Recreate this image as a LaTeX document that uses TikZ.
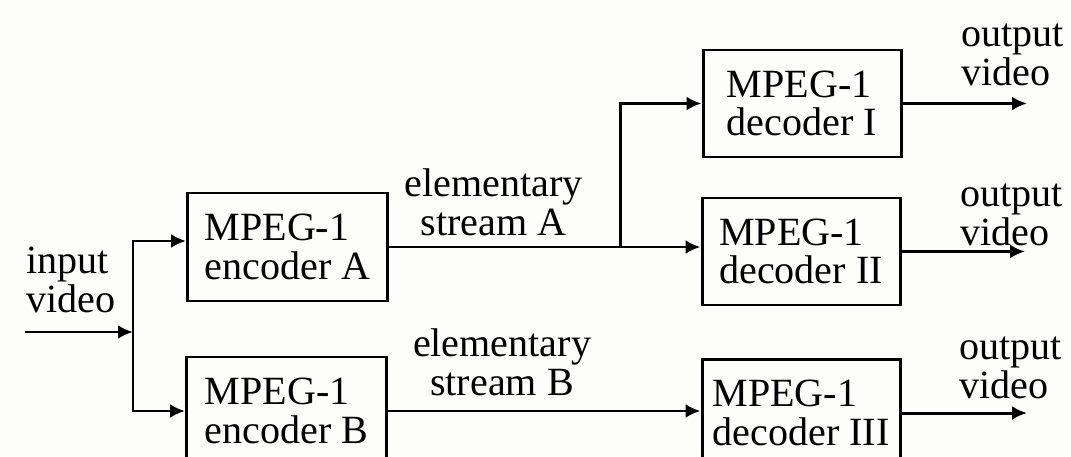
\documentclass[tikz,border=0pt]{standalone}
\usepackage{fontspec}
\setmainfont{Liberation Serif}
\usetikzlibrary{arrows.meta}
\definecolor{paper}{RGB}{253,253,249}

\begin{document}
\begin{tikzpicture}[
  font=\fontsize{11.4pt}{10.9pt}\selectfont,
  line width=0.85pt,
  block/.style={draw, rectangle, align=left, inner sep=0pt},
  encblock/.style={block, minimum width=2cm, minimum height=1.08cm},
  decblock/.style={block, minimum width=1.98cm, minimum height=1.07cm},
  tag/.style={inner sep=0pt},
  flow/.style={-{Latex[length=1.5mm,width=1.4mm]}}
]

%% Page
\path [use as bounding box, fill=paper] ( 0, 0 ) rectangle ( 10.71, -4.56 );

%% Encoders
\node [encblock] (encA) at ( 2.875, -2.47 ) {MPEG-1\\encoder A};
\node [encblock] (encB) at ( 2.865, -4.11 ) {MPEG-1\\encoder B};

%% Decoders
\node [decblock] (decI) at ( 8.02, -1.035 ) {MPEG-1\\decoder I};
\node [decblock] (decII) at ( 8.01, -2.515 ) {MPEG-1\\decoder II};
\node [decblock] (decIII) at ( 8.01, -4.13 ) {MPEG-1\\decoder III};

%% Input side
\coordinate (vin) at ( 0.25, -3.32 );
\coordinate (split) at ( 1.33, -3.32 );
\draw [flow] (vin) -- (split);
\draw [flow] (split) |- ([yshift=0.06cm]encA.west);
\draw [flow] (split) |- (encB.west);
\node [tag, align=left, anchor=west] (invid) at ( 0.25, -2.80 ) {input\\video};

%% Elementary streams
\coordinate (tap) at ( 6.20, -2.47 );
\draw [flow] (encA.east) -- (encA.east -| decII.west);
\draw [flow] (tap) |- (decI.west);
\draw [flow] (encB.east) -- (encB.east -| decIII.west);
\node [tag, align=center, anchor=south] (esA) at ( 4.935, -2.37 ) {elementary\\stream A};
\node [tag, align=center, anchor=south] (esB) at ( 5.02, -3.97 ) {elementary\\stream B};

%% Outputs
\coordinate (outI) at ( 10.27, -1.035 );
\coordinate (outII) at ( 10.25, -2.515 );
\coordinate (outIII) at ( 10.27, -4.13 );
\draw [flow] (decI.east) -- (outI);
\draw [flow] (decII.east) -- (outII);
\draw [flow] (decIII.east) -- (outIII);
\node [tag, align=left, anchor=south west] (outvidI) at ( 9.60, -0.87 ) {output\\video};
\node [tag, align=left, anchor=south west] (outvidII) at ( 9.59, -2.47 ) {output\\video};
\node [tag, align=left, anchor=south west] (outvidIII) at ( 9.58, -4.00 ) {output\\video};

\end{tikzpicture}
\end{document}
